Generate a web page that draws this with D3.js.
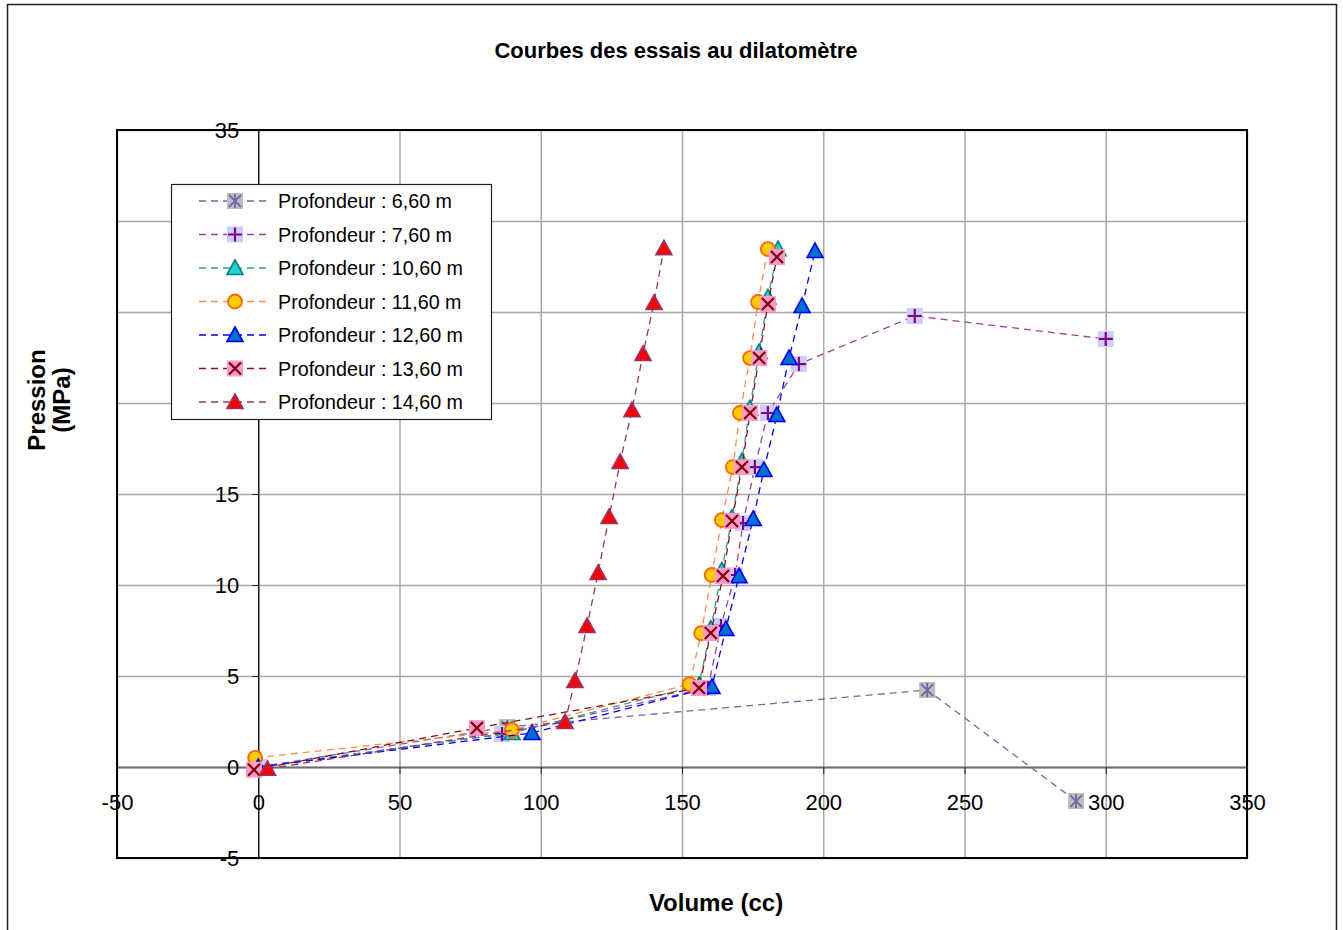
<!DOCTYPE html>
<html>
<head>
<meta charset="utf-8">
<script src="https://cdn.jsdelivr.net/npm/d3@7"></script>
<style>
  html, body { margin: 0; padding: 0; background: #fff; }
  svg { display: block; font-family: "Liberation Sans", Arial, sans-serif; }
</style>
</head>
<body>
<svg id="chart" width="1343" height="930"></svg>
<script>
// Axis ticks
const xTicks = [-50, 0, 50, 100, 150, 200, 250, 300, 350];
const yTicks = [-5, 0, 5, 10, 15, 20, 25, 30, 35];

// Series: volume (cc) and pressure (MPa) per test depth
const labels = [
  "Profondeur : 6,60 m", "Profondeur : 7,60 m", "Profondeur : 10,60 m",
  "Profondeur : 11,60 m", "Profondeur : 12,60 m", "Profondeur : 13,60 m",
  "Profondeur : 14,60 m"
];
const vol_660 = [0, 88.1, 236.8, 289.5];
const pres_660 = [0, 2.2, 4.23, -1.87];

const vol_760 = [0, 86.3, 159.2, 163.8, 168.8, 171.6, 175.8, 180.4, 191.4, 232.4, 300];
const pres_760 = [0, 1.81, 4.34, 7.75, 10.55, 13.4, 16.48, 19.45, 22.14, 24.78, 23.52];

const vol_1060 = [0, 89.8, 156.0, 160.2, 164.1, 167.7, 171.2, 174.0, 177.3, 180.4, 184.0];
const pres_1060 = [0, 1.87, 4.5, 7.6, 10.8, 13.7, 16.8, 19.7, 22.8, 25.8, 28.45];

const vol_1160 = [-1.1, 89.8, 152.7, 156.8, 160.5, 164.1, 168.0, 170.5, 174.1, 176.9, 180.4];
const pres_1160 = [0.5, 2.03, 4.55, 7.35, 10.55, 13.57, 16.48, 19.45, 22.47, 25.55, 28.46];

const vol_1260 = [0, 96.9, 160.6, 165.5, 170.2, 175.2, 179.0, 183.6, 187.9, 192.5, 197.1];
const pres_1260 = [0, 1.87, 4.4, 7.58, 10.49, 13.63, 16.32, 19.34, 22.47, 25.33, 28.35];

const vol_1360 = [-1.5, 77.4, 156.0, 160.2, 164.5, 167.7, 171.2, 174.1, 177.3, 180.4, 183.6];
const pres_1360 = [-0.15, 2.14, 4.34, 7.36, 10.49, 13.52, 16.48, 19.45, 22.47, 25.44, 28.02];

const vol_1460 = [3.3, 108.6, 112.1, 116.4, 120.3, 124.2, 128.1, 132.3, 136.2, 140.1, 143.6];
const pres_1460 = [-0.1, 2.47, 4.73, 7.75, 10.66, 13.74, 16.76, 19.6, 22.7, 25.5, 28.5];

const seriesVol = [vol_660, vol_760, vol_1060, vol_1160, vol_1260, vol_1360, vol_1460];
const seriesPres = [pres_660, pres_760, pres_1060, pres_1160, pres_1260, pres_1360, pres_1460];

// Line and marker styling per series
const styles = [
  { line: "#6b6ba8", marker: "star",   fill: "#bdbdbd", stroke: "#6b6ba8" },
  { line: "#a23aa2", marker: "plus",   fill: "#ccccff", stroke: "#800080" },
  { line: "#2e9a9a", marker: "tri",    fill: "#22d3d3", stroke: "#008080" },
  { line: "#ff8c4a", marker: "circle", fill: "#ffcc00", stroke: "#ff6600" },
  { line: "#0000ff", marker: "tri",    fill: "#0070d0", stroke: "#0000ff" },
  { line: "#8b1010", marker: "cross",  fill: "#ff99cc", stroke: "#800000" },
  { line: "#993366", marker: "tri",    fill: "#ff0000", stroke: "#993366" }
];

const svg = d3.select("#chart");
const L = 117, R = 1247, T = 130, B = 858;
const x = d3.scaleLinear().domain([-50, 350]).range([L, R]);
const y = d3.scaleLinear().domain([-5, 35]).range([B, T]);
const plainNum = d => String(d);

// Outer frame
svg.append("rect").attr("x", 7.5).attr("y", 4.5).attr("width", 1329).attr("height", 940)
  .attr("fill", "#fff").attr("stroke", "#222").attr("stroke-width", 1.5);

// Title
svg.append("text").attr("x", 676).attr("y", 58).attr("text-anchor", "middle")
  .attr("font-size", 22).attr("font-weight", "bold").text("Courbes des essais au dilatomètre");

// Gridlines
const grid = svg.append("g");
grid.append("g").attr("transform", `translate(0,${B})`)
  .call(d3.axisBottom(x).tickValues(xTicks).tickSize(-(B - T)).tickFormat(""))
  .call(g => g.select(".domain").remove())
  .call(g => g.selectAll("line").attr("stroke", "#a8a8a8").attr("stroke-width", 1.5));
grid.append("g").attr("transform", `translate(${L},0)`)
  .call(d3.axisLeft(y).tickValues(yTicks).tickSize(-(R - L)).tickFormat(""))
  .call(g => g.select(".domain").remove())
  .call(g => g.selectAll("line").attr("stroke", "#a8a8a8").attr("stroke-width", 1.5));

// Axes crossing at the origin
const xAxis = svg.append("g").attr("transform", `translate(0,${y(0)})`)
  .call(d3.axisBottom(x).tickValues(xTicks).tickFormat(plainNum)
    .tickSize(7).tickPadding(20).tickSizeOuter(0));
xAxis.select(".domain").attr("stroke", "#6e6e6e").attr("stroke-width", 2);
xAxis.selectAll("line").attr("stroke", "#222");
xAxis.selectAll("text").attr("font-size", 22).attr("fill", "#000")
  .attr("font-family", "Liberation Sans, Arial, sans-serif");

const yAxis = svg.append("g").attr("transform", `translate(${x(0)},0)`)
  .call(d3.axisLeft(y).tickValues(yTicks).tickFormat(plainNum)
    .tickSize(6).tickPadding(13).tickSizeOuter(0));
yAxis.select(".domain").attr("stroke", "#000").attr("stroke-width", 1.2);
yAxis.selectAll("line").attr("stroke", "#222");
yAxis.selectAll("text").attr("font-size", 22).attr("fill", "#000")
  .attr("font-family", "Liberation Sans, Arial, sans-serif");

// Marker drawing
function drawMarker(g, st) {
  const s = 8;
  if (st.marker === "tri") {
    g.append("path").attr("d", `M0,${-s} L${s},${s - 1.5} L${-s},${s - 1.5} Z`)
      .attr("fill", st.fill).attr("stroke", st.stroke).attr("stroke-width", 1.6)
      .attr("stroke-linejoin", "miter");
  } else if (st.marker === "circle") {
    g.append("circle").attr("r", 7).attr("fill", st.fill)
      .attr("stroke", st.stroke).attr("stroke-width", 1.8);
  } else if (st.marker === "cross") {
    g.append("rect").attr("x", -s).attr("y", -s).attr("width", 2 * s).attr("height", 2 * s)
      .attr("fill", st.fill);
    g.append("path").attr("d", `M${-6},${-6} L6,6 M6,${-6} L${-6},6`)
      .attr("stroke", st.stroke).attr("stroke-width", 2.2);
  } else if (st.marker === "plus") {
    g.append("rect").attr("x", -s).attr("y", -s).attr("width", 2 * s).attr("height", 2 * s)
      .attr("fill", st.fill);
    g.append("path").attr("d", `M${-7},0 L7,0 M0,${-7} L0,7`)
      .attr("stroke", st.stroke).attr("stroke-width", 2.2);
  } else if (st.marker === "star") {
    g.append("rect").attr("x", -s).attr("y", -s).attr("width", 2 * s).attr("height", 2 * s)
      .attr("fill", st.fill);
    g.append("path").attr("d", `M${-6},${-6} L6,6 M6,${-6} L${-6},6 M0,${-7} L0,7`)
      .attr("stroke", st.stroke).attr("stroke-width", 1.8);
  }
}

// Series lines and markers
const line = d3.line().x(d => x(d[0])).y(d => y(d[1]));
const plot = svg.append("g");
seriesVol.forEach((vols, i) => {
  const pts = vols.map((v, k) => [v, seriesPres[i][k]]);
  const st = styles[i];
  plot.append("path").datum(pts).attr("d", line).attr("fill", "none")
    .attr("stroke", st.line).attr("stroke-width", 1.3).attr("stroke-dasharray", "7,5");
  pts.forEach(p => {
    drawMarker(plot.append("g").attr("transform", `translate(${x(p[0])},${y(p[1])})`), st);
  });
});

// Plot area border
svg.append("rect").attr("x", L).attr("y", T).attr("width", R - L).attr("height", B - T)
  .attr("fill", "none").attr("stroke", "#000").attr("stroke-width", 2);

// Legend
const leg = svg.append("g");
leg.append("rect").attr("x", 171.5).attr("y", 184.5).attr("width", 320).attr("height", 235)
  .attr("fill", "#fff").attr("stroke", "#222").attr("stroke-width", 1.2);
labels.forEach((lab, i) => {
  const cy = 201 + i * 33.5;
  const st = styles[i];
  leg.append("line").attr("x1", 199).attr("x2", 270).attr("y1", cy).attr("y2", cy)
    .attr("stroke", st.line).attr("stroke-width", 1.3).attr("stroke-dasharray", "7,5");
  drawMarker(leg.append("g").attr("transform", `translate(235,${cy})`), st);
  leg.append("text").attr("x", 278).attr("y", cy + 7).attr("font-size", 19.7).text(lab);
});

// Axis titles
svg.append("text").attr("transform", "translate(45,400) rotate(-90)")
  .attr("text-anchor", "middle").attr("font-size", 24).attr("font-weight", "bold").text("Pression");
svg.append("text").attr("transform", "translate(70,400) rotate(-90)")
  .attr("text-anchor", "middle").attr("font-size", 24).attr("font-weight", "bold").text("(MPa)");
svg.append("text").attr("x", 716).attr("y", 911).attr("text-anchor", "middle")
  .attr("font-size", 24).attr("font-weight", "bold").text("Volume (cc)");
</script>
</body>
</html>
